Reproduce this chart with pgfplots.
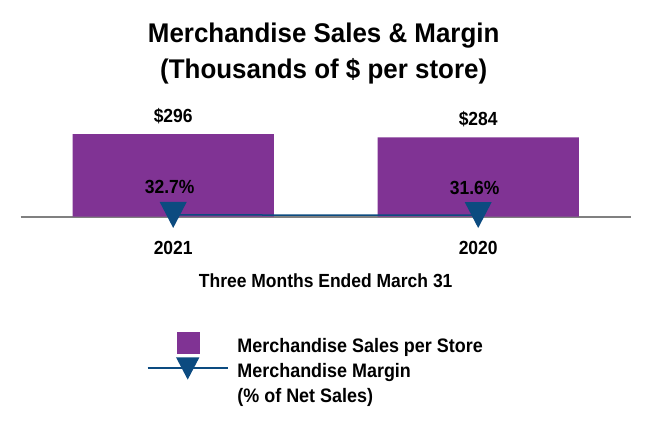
\documentclass[border=0pt]{standalone}
\usepackage{pgfplots}
\pgfplotsset{compat=1.18}
\usepackage{fontspec}
\setmainfont{Liberation Sans}[FakeStretch=0.92]
\newfontfamily\titlefont{Liberation Sans}[FakeStretch=0.96]

\definecolor{barpurple}{RGB}{128,51,148}
\definecolor{marginblue}{RGB}{12,75,128}
\definecolor{basegray}{RGB}{128,128,128}

% downward triangle, centred on the data point
\pgfdeclareplotmark{tridown}{%
  \pgfpathmoveto{\pgfqpoint{-1.04\pgfplotmarksize}{\pgfplotmarksize}}%
  \pgfpathlineto{\pgfqpoint{1.04\pgfplotmarksize}{\pgfplotmarksize}}%
  \pgfpathlineto{\pgfqpoint{0pt}{-\pgfplotmarksize}}%
  \pgfpathclose
  \pgfusepathqfill
}

\newcommand\lab{\fontsize{19}{23}\selectfont\bfseries}

\begin{document}
\begin{tikzpicture}
\useasboundingbox (-20.7pt,-225.3pt) rectangle (629.3pt,216.7pt);

% sales per store (bars)
\begin{axis}[
  scale only axis, width=610pt, height=100pt,
  xmin=-0.5, xmax=1.5, ymin=0, ymax=358,
  ybar, bar width=0.66,
  hide y axis,
  axis x line*=bottom,
  x axis line style={draw=basegray, line width=2pt, -},
  xtick={0,1}, xticklabels={2021,2020},
  xtick style={draw=none},
  xticklabel style={font=\lab, anchor=base, inner sep=0pt, yshift=-33.6pt},
  xlabel={Three Months Ended March 31},
  xlabel style={font=\lab, at={(axis description cs:0.5,0)}, anchor=base, inner sep=0pt, yshift=-71pt},
  title={Merchandise Sales \& Margin\\(Thousands of \$ per store)},
  title style={font=\titlefont\fontsize{27}{35.6}\selectfont\bfseries, align=center,
    at={(axis description cs:0.5,1)}, anchor=south, inner sep=0pt, yshift=26.7pt, xshift=-2pt},
  nodes near coords={\$\pgfmathprintnumber{\pgfplotspointmeta}},
  nodes near coords style={font=\lab, text=black, anchor=base, inner sep=0pt, yshift=12pt,
    /pgf/number format/assume math mode=true},
  clip=false,
]
\addplot[fill=barpurple, draw=none] coordinates {(0,296) (1,284)};
\end{axis}

% merchandise margin (% of net sales)
\begin{axis}[
  scale only axis, width=610pt, height=100pt,
  xmin=-0.5, xmax=1.5, ymin=0, ymax=1900,
  hide axis, clip=false,
  nodes near coords={\pgfmathprintnumber[fixed,fixed zerofill,precision=1]{\pgfplotspointmeta}\%},
  nodes near coords style={font=\lab, text=black, anchor=base, inner sep=0pt, yshift=21pt, xshift=-3.5pt,
    /pgf/number format/assume math mode=true},
  legend style={at={(0.2070,-1.153)}, anchor=north west, draw=none, fill=none,
    inner sep=0pt, outer sep=0pt, column sep=9pt, row sep=3pt,
    font=\fontsize{19.5}{23}\selectfont\bfseries,
    nodes={inner sep=0pt, text height=20pt, text depth=2pt}},
  legend cell align=left,
]
\addlegendimage{legend image code/.code={
  \fill[barpurple] (-11pt,-10.5pt) rectangle (11pt,10.5pt);
  \path[draw=none, fill=none] (-40pt,0pt) -- (40pt,0pt);}}
\addlegendentry{Merchandise Sales per Store}
\addplot[color=marginblue, line width=1.5pt, mark=tridown, mark size=13pt,
  legend image code/.code={
    \draw[marginblue, line width=1.5pt] (-40pt,0pt) -- (40pt,0pt);
    \fill[marginblue] (-10.5pt,10pt) -- (10.5pt,10pt) -- (0pt,-10pt) -- cycle;}]
  coordinates {(0,32.7) (1,31.6)};
\addlegendentry{Merchandise Margin}
\addlegendimage{empty legend}
\addlegendentry{(\% of Net Sales)}
\end{axis}
\end{tikzpicture}
\end{document}
